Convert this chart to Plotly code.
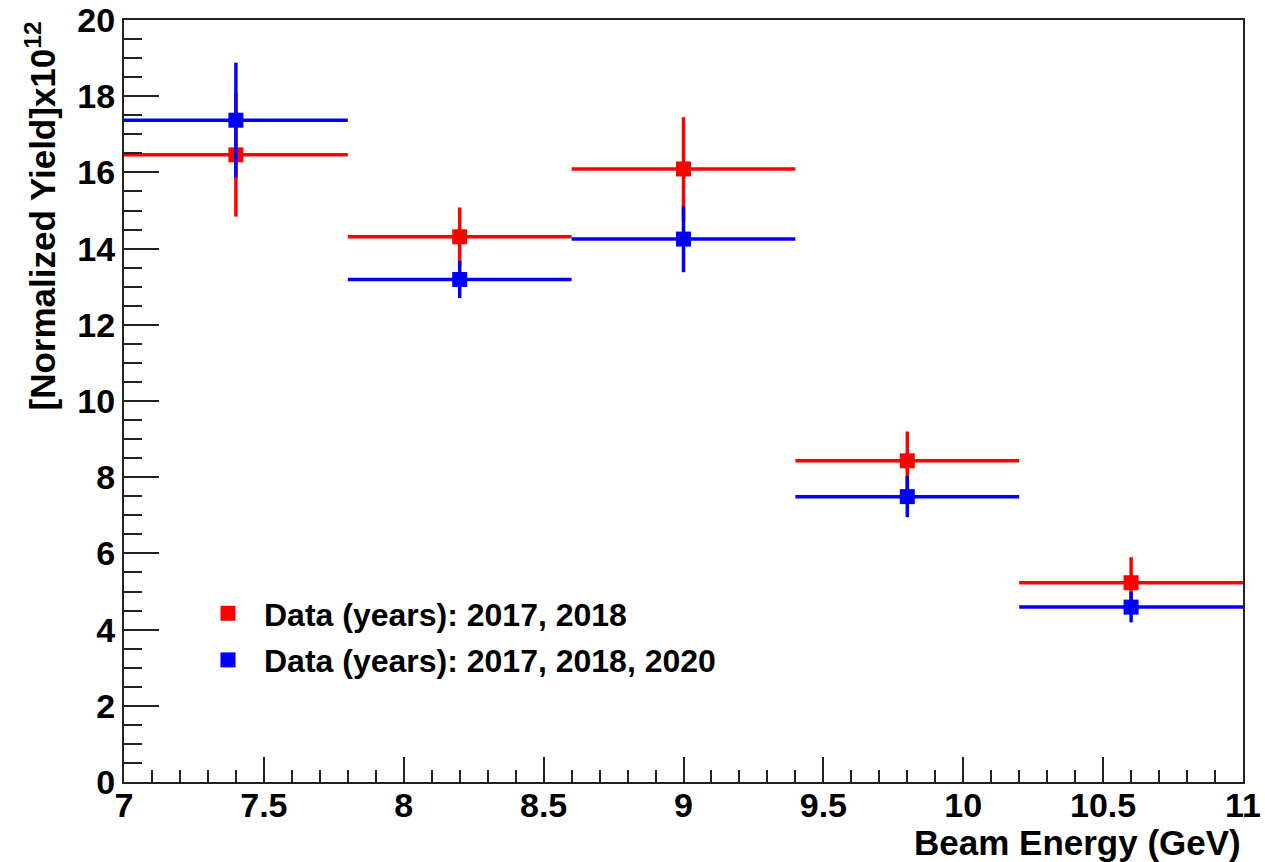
import plotly.graph_objects as go

# Data
energy = [7.4, 8.2, 9.0, 9.8, 10.6]
bin_half_width = [0.4, 0.4, 0.4, 0.4, 0.4]

yield_1718 = [16.46, 14.31, 16.09, 8.43, 5.23]
err_1718 = [1.62, 0.77, 1.36, 0.77, 0.67]

yield_171820 = [17.37, 13.19, 14.25, 7.49, 4.59]
err_171820 = [1.51, 0.49, 0.87, 0.54, 0.40]

label_1718 = "Data (years): 2017, 2018"
label_171820 = "Data (years): 2017, 2018, 2020"

FONT = "Liberation Sans"
TICKFONT = dict(family=FONT, size=34, color="black", weight=700)

fig = go.Figure()

def add_series(y, ey, color, name, group):
    fig.add_trace(go.Scatter(
        x=energy, y=y, mode="markers", name=name, legendgroup=group,
        marker=dict(symbol="square", size=15, color=color, line=dict(width=0)),
        error_y=dict(type="data", array=ey, visible=True, color=color, thickness=3.5, width=0),
        error_x=dict(type="data", array=bin_half_width, visible=True, color=color, thickness=3.5, width=0),
        cliponaxis=False,
    ))

add_series(yield_1718, err_1718, "#ff0000", label_1718, "a")
add_series(yield_171820, err_171820, "#0000ff", label_171820, "b")

W, H = 1265, 862
L, R, T, B = 124, 22, 20, 80
pw = W - L - R
ph = H - T - B

fig.update_layout(
    width=W, height=H,
    margin=dict(l=L, r=R, t=T, b=B, autoexpand=False),
    plot_bgcolor="white", paper_bgcolor="white",
    showlegend=True,
    legend=dict(
        x=(192 - L) / pw, y=(H - B - 586) / ph, xanchor="left", yanchor="top",
        font=dict(family=FONT, size=32, color="black", weight=700),
        bgcolor="rgba(0,0,0,0)", traceorder="grouped", tracegroupgap=2,
        itemsizing="trace", itemwidth=62,
    ),
    xaxis=dict(
        range=[7, 11], showgrid=False, zeroline=False, automargin=False,
        showline=True, linecolor="#222", linewidth=2, mirror=True,
        ticks="inside", ticklen=25, tickwidth=2, tickcolor="#222",
        tick0=7, dtick=0.5, tickfont=TICKFONT, ticklabelstandoff=-8,
        minor=dict(ticks="inside", ticklen=12, tickwidth=2, tickcolor="#222", dtick=0.1, showgrid=False),
    ),
    yaxis=dict(
        range=[0, 20], showgrid=False, zeroline=False, automargin=False,
        showline=True, linecolor="#222", linewidth=2, mirror=True,
        ticks="inside", ticklen=35, tickwidth=2, tickcolor="#222",
        tick0=0, dtick=2, tickfont=TICKFONT,
        minor=dict(ticks="inside", ticklen=18, tickwidth=2, tickcolor="#222", dtick=0.5, showgrid=False),
    ),
    annotations=[
        dict(text="<b>Beam Energy (GeV)</b>", xref="paper", yref="paper",
             x=1, y=-(842 - 782) / ph, xanchor="right", yanchor="middle",
             showarrow=False, font=dict(family=FONT, size=35, color="black")),
        dict(text="<b>[Normalized Yield]x10<sup>12</sup></b>", xref="paper", yref="paper",
             x=(40 - L) / pw, y=1, xanchor="center", yanchor="top", textangle=-90,
             showarrow=False, font=dict(family=FONT, size=35, color="black")),
    ],
)

fig.write_html("out.html")
